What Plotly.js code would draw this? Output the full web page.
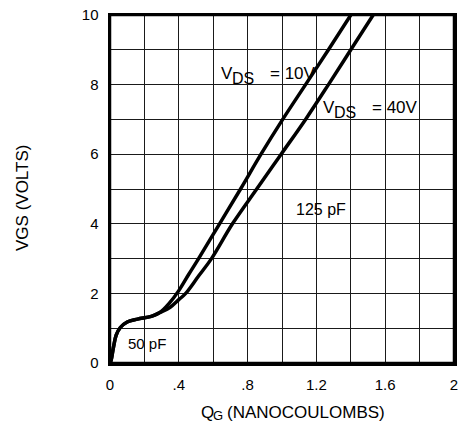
<!DOCTYPE html>
<html>
<head>
<meta charset="utf-8">
<script src="https://cdn.plot.ly/plotly-3.0.1.min.js"></script>
<style>html,body{margin:0;padding:0;background:#fff;overflow:hidden;}#chart{width:461px;height:422px;}</style>
</head>
<body>
<div id="chart"></div>
<script>
// Shared low-charge region (both curves)
const sharedQ = [0, 0.006, 0.02, 0.036, 0.06, 0.1, 0.16, 0.24, 0.29];
const sharedV = [0, 0.07, 0.45, 0.8, 1.02, 1.18, 1.26, 1.34, 1.45];
// VDS = 10V continuation
const q10 = [0.345, 0.4, 0.458, 0.515, 0.637, 0.759, 0.878, 1.004, 1.137, 1.27, 1.4];
const v10 = [1.72, 2.08, 2.55, 3.0, 4.0, 5.0, 6.0, 7.0, 8.0, 9.0, 10.0];
// VDS = 40V continuation
const q40 = [0.35, 0.4, 0.44, 0.515, 0.59, 0.712, 0.853, 0.995, 1.137, 1.27, 1.4, 1.53];
const v40 = [1.6, 1.82, 2.0, 2.5, 3.0, 4.0, 5.0, 6.0, 7.0, 8.0, 9.0, 10.0];

const xTickVals = [0, 0.4, 0.8, 1.2, 1.6, 2.0];
const xTickText = ['0', '.4', '.8', '1.2', '1.6', '2'];
const yTickVals = [0, 2, 4, 6, 8, 10];
const yTickText = ['0', '2', '4', '6', '8', '10'];

const fontFam = 'Liberation Sans, Arial, sans-serif';
const labels = [
  {main: 'V', sub: 'DS', rest: '= 10V', x: 0.634, y: 8.32},
  {main: 'V', sub: 'DS', rest: '= 40V', x: 1.228, y: 7.33}
];
const plainLabels = [
  {text: '125 pF', x: 1.07, y: 4.4, size: 16},
  {text: '50 pF', x: 0.095, y: 0.55, size: 15}
];

const lineStyle = {color: '#000', width: 3.5, shape: 'spline', smoothing: 1};
const traces = [
  {x: sharedQ.concat(q10), y: sharedV.concat(v10), mode: 'lines', line: lineStyle, hoverinfo: 'skip', name: 'VDS = 10V'},
  {x: sharedQ.concat(q40), y: sharedV.concat(v40), mode: 'lines', line: lineStyle, hoverinfo: 'skip', name: 'VDS = 40V'}
];

const annotations = [];
labels.forEach(l => {
  annotations.push({text: l.main, x: l.x, y: l.y, xref: 'x', yref: 'y', showarrow: false,
    xanchor: 'left', yanchor: 'middle', font: {family: fontFam, size: 17, color: '#000'}});
  annotations.push({text: l.sub, x: l.x, y: l.y, xref: 'x', yref: 'y', showarrow: false,
    xanchor: 'left', yanchor: 'middle', xshift: 11, yshift: -5, font: {family: fontFam, size: 16, color: '#000'}});
  annotations.push({text: l.rest, x: l.x, y: l.y, xref: 'x', yref: 'y', showarrow: false,
    xanchor: 'left', yanchor: 'middle', xshift: 49, font: {family: fontFam, size: 17, color: '#000'}});
});
plainLabels.forEach(l => {
  annotations.push({text: l.text, x: l.x, y: l.y, xref: 'x', yref: 'y', showarrow: false,
    xanchor: 'left', yanchor: 'middle', font: {family: fontFam, size: l.size, color: '#000'}});
});
// x axis title (Q with subscript G)
annotations.push({text: 'Q', xref: 'paper', yref: 'paper', x: 0.259, y: -0.142,
  xanchor: 'left', yanchor: 'middle', showarrow: false, font: {family: fontFam, size: 17, color: '#000'}});
annotations.push({text: 'G', xref: 'paper', yref: 'paper', x: 0.259, y: -0.142, xshift: 12, yshift: -3,
  xanchor: 'left', yanchor: 'middle', showarrow: false, font: {family: fontFam, size: 13, color: '#000'}});
annotations.push({text: '(NANOCOULOMBS)', xref: 'paper', yref: 'paper', x: 0.259, y: -0.142, xshift: 26,
  xanchor: 'left', yanchor: 'middle', showarrow: false, font: {family: fontFam, size: 17, color: '#000'}});
// y axis title, rotated
annotations.push({text: 'VGS (VOLTS)', xref: 'paper', yref: 'paper', x: -0.256, y: 0.474,
  xanchor: 'center', yanchor: 'middle', showarrow: false, textangle: -90,
  font: {family: fontFam, size: 17, color: '#000'}});

const layout = {
  width: 461, height: 422,
  margin: {l: 110, r: 7, t: 15, b: 59},
  paper_bgcolor: '#fff', plot_bgcolor: '#fff',
  showlegend: false,
  xaxis: {
    range: [0, 2], tickvals: xTickVals, ticktext: xTickText,
    showgrid: true, gridcolor: '#1a1a1a', gridwidth: 1,
    minor: {dtick: 0.2, showgrid: true, gridcolor: '#1a1a1a', gridwidth: 1, ticks: ''},
    showline: true, linecolor: '#000', linewidth: 2.5, mirror: true,
    zeroline: false, ticks: '', ticklabelstandoff: 6, ticklabeloverflow: 'allow',
    tickfont: {family: fontFam, size: 15, color: '#000'}, fixedrange: true
  },
  yaxis: {
    range: [0, 10], tickvals: yTickVals, ticktext: yTickText,
    showgrid: true, gridcolor: '#1a1a1a', gridwidth: 1,
    minor: {dtick: 1, showgrid: true, gridcolor: '#1a1a1a', gridwidth: 1, ticks: ''},
    showline: true, linecolor: '#000', linewidth: 2.5, mirror: true,
    zeroline: false, ticks: '', ticklabelstandoff: 6, ticklabeloverflow: 'allow',
    tickfont: {family: fontFam, size: 15, color: '#000'}, fixedrange: true
  },
  shapes: [
    {type: 'rect', xref: 'paper', yref: 'paper', x0: 0, x1: 1, y0: 0, y1: 1,
     line: {color: '#000', width: 2.5}, fillcolor: 'rgba(0,0,0,0)', layer: 'above'}
  ],
  annotations: annotations
};

Plotly.newPlot('chart', traces, layout, {staticPlot: true, displayModeBar: false});
</script>
</body>
</html>
